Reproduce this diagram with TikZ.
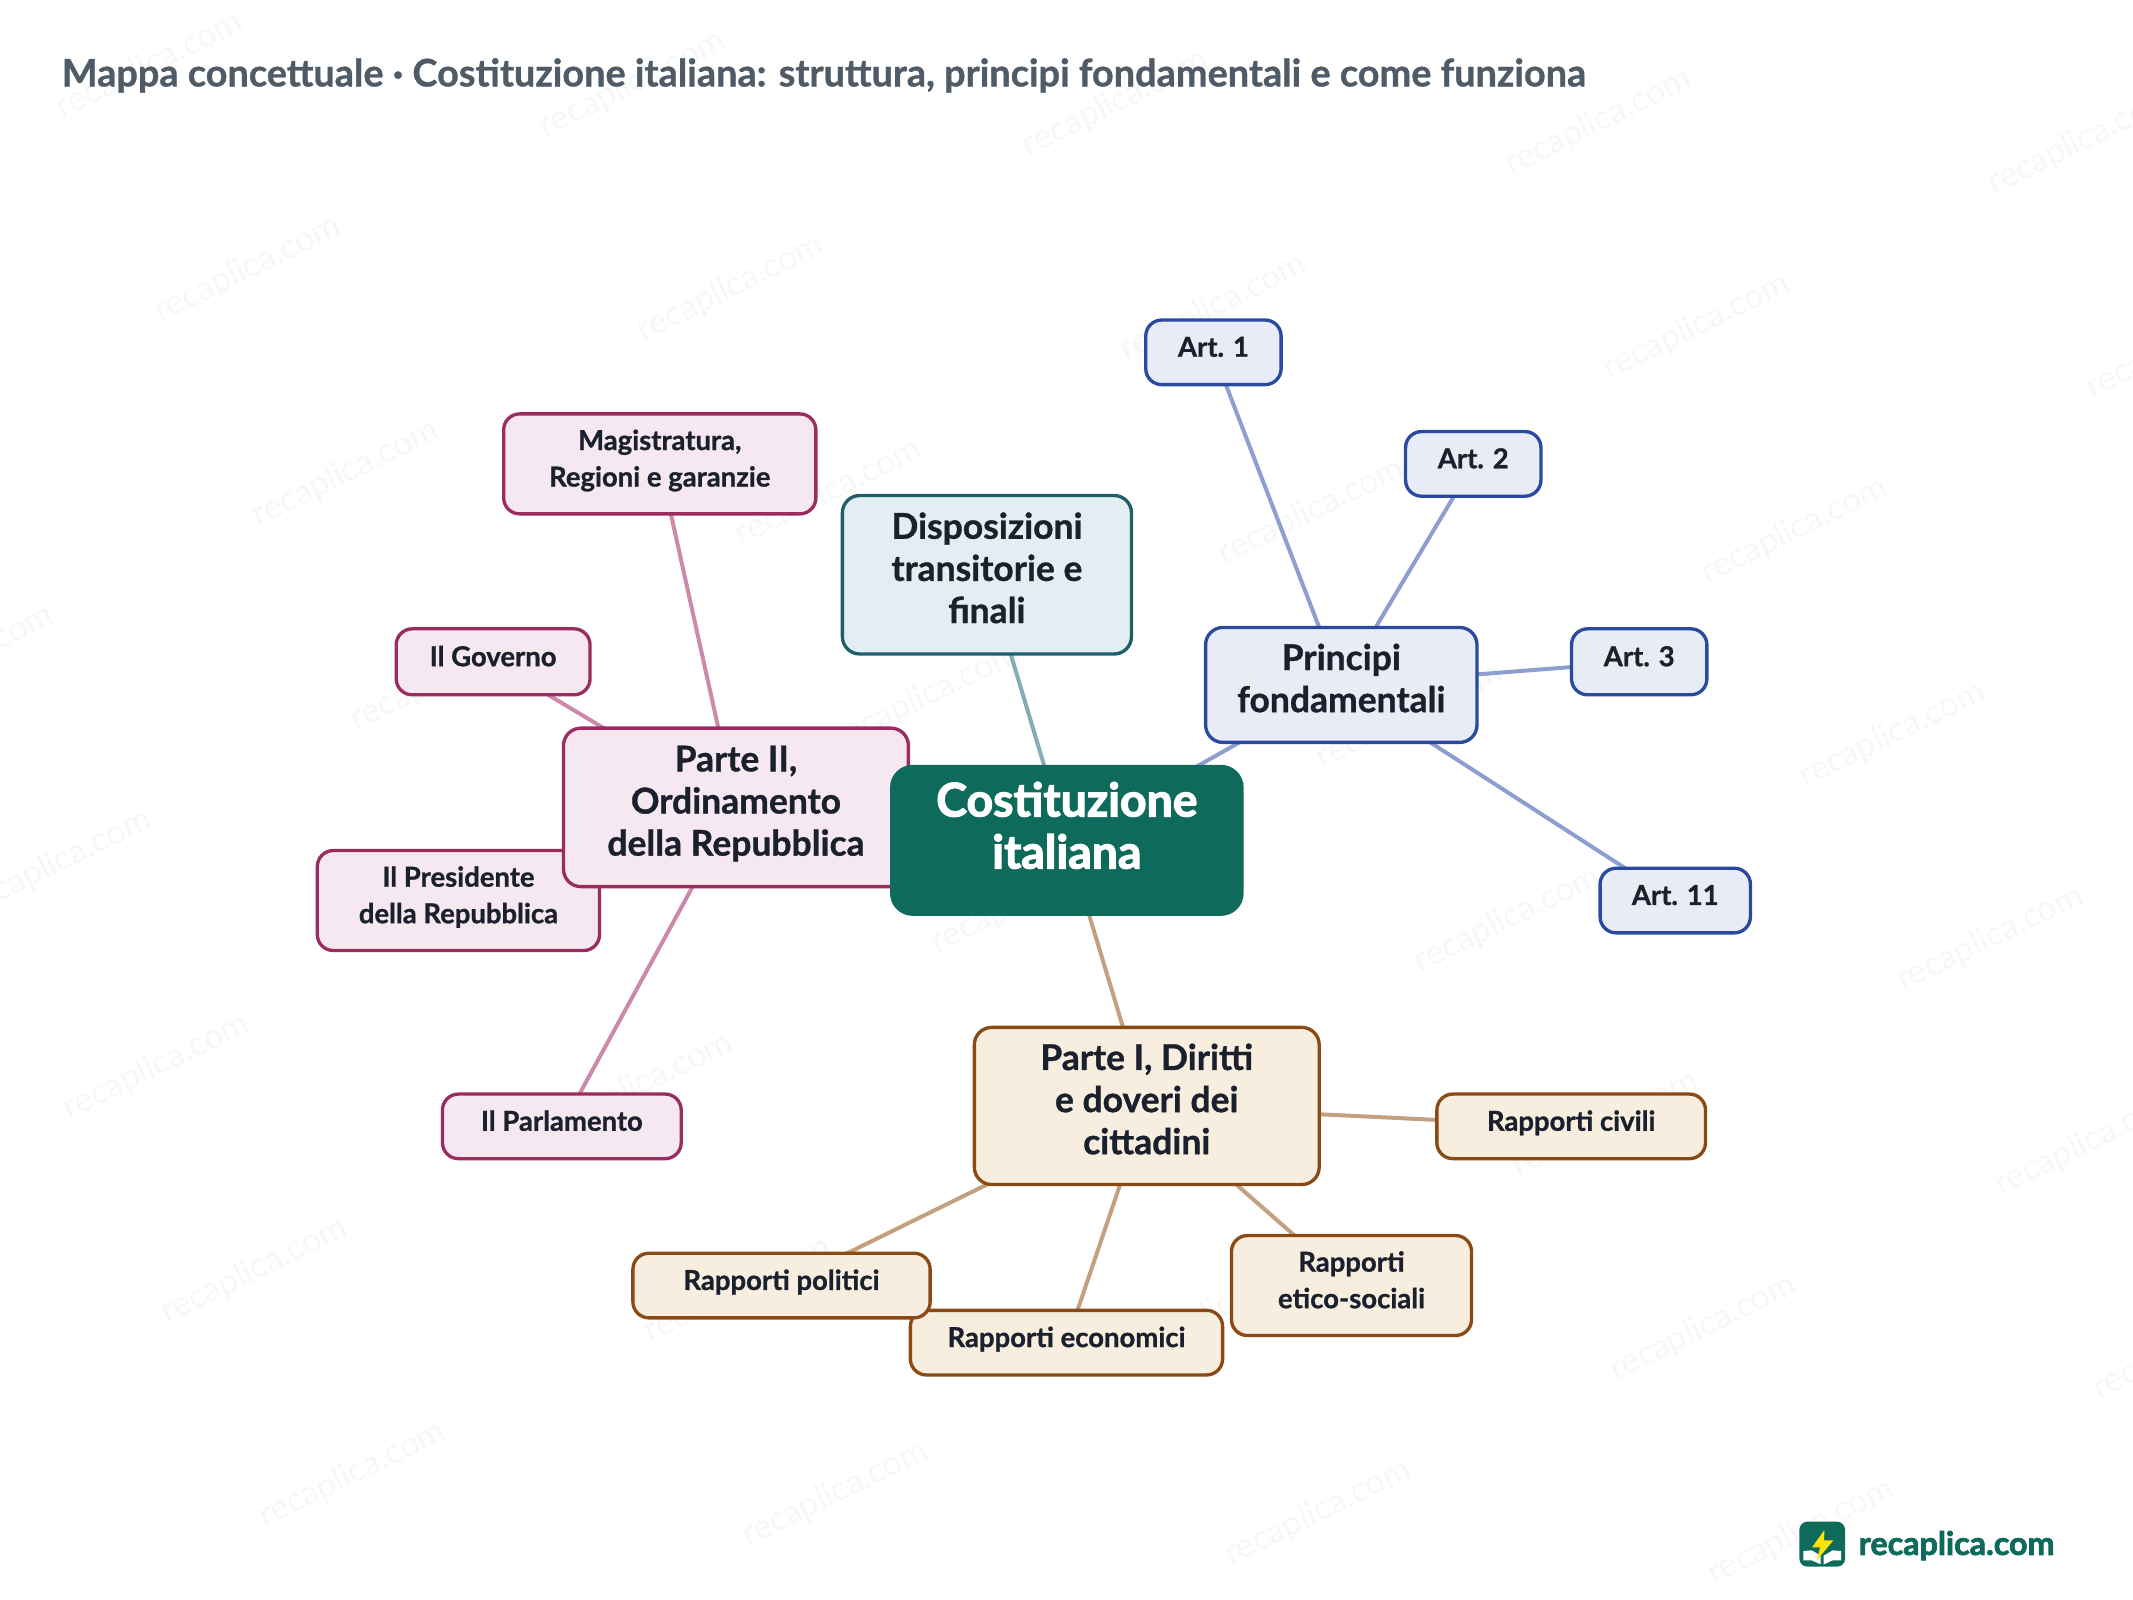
\documentclass[tikz,border=0pt]{standalone}
\usepackage{fontspec}
\setmainfont{Lato}[BoldFeatures={FakeBold=0.9}]
\newfontfamily\latoblk{Lato}[UprightFont=* Bold,UprightFeatures={FakeBold=2.4}]
\definecolor{txt}{HTML}{1A202C}
\definecolor{ttl}{HTML}{4F5B67}
\definecolor{grn}{HTML}{0E6B5C}
\definecolor{wm}{HTML}{F6F7F7}
\definecolor{bF}{HTML}{E8ECF7}\definecolor{bS}{HTML}{2A4A9F}\definecolor{bL}{HTML}{8D9FD0}
\definecolor{mF}{HTML}{F6E8F0}\definecolor{mS}{HTML}{9B2C5F}\definecolor{mL}{HTML}{CC89A9}
\definecolor{oF}{HTML}{F7EEDF}\definecolor{oS}{HTML}{8B4A14}\definecolor{oL}{HTML}{C4A07E}
\definecolor{tF}{HTML}{E3EEF3}\definecolor{tS}{HTML}{1F5F6B}\definecolor{tL}{HTML}{82ADB5}
\tikzset{
  boxbase/.style={rectangle,inner sep=0pt,line width=2.5pt,align=center,text=txt},
  lvlthree/.style={boxbase,rounded corners=12pt,font=\fontsize{20.6}{27.4}\selectfont\bfseries},
  lvltwo/.style={boxbase,rounded corners=13pt,font=\fontsize{26.6}{31.6}\selectfont\bfseries},
  lvlone/.style={rectangle,inner sep=0pt,rounded corners=17pt,fill=grn,text=white,font=\fontsize{34.8}{39}\selectfont\latoblk},
  blu/.style={draw=bS,fill=bF},
  mag/.style={draw=mS,fill=mF},
  och/.style={draw=oS,fill=oF},
  tea/.style={draw=tS,fill=tF},
  linkline/.style={line width=3pt},
  wmtext/.style={text=wm,rotate=26,font=\fontsize{25.5}{28}\selectfont},
}
% name x0 y0 x1 y1 style raise text
\newcommand{\bx}[8]{%
  \pgfmathsetmacro{\cxx}{(#2+#4)/2}\pgfmathsetmacro{\cyy}{(#3+#5)/2}%
  \pgfmathsetmacro{\www}{(#4-#2-0.5)*1.0204}\pgfmathsetmacro{\hhh}{(#5-#3-0.5)*1.0204}%
  \node[#6,minimum width=\www pt,minimum height=\hhh pt] (#1) at (\cxx,\cyy)
    {\raisebox{#7pt}[0pt][0pt]{\begin{tabular}{@{}c@{}}#8\end{tabular}}};}
\begin{document}
\begin{tikzpicture}[x=1.0204pt,y=-1.0204pt]
\useasboundingbox (0,0) rectangle (1568,1176);
\begin{scope}
\clip (0,0) rectangle (1568,1176);
\foreach \i in {-1,...,4}{\foreach \j in {0,...,7}{
  \pgfmathsetmacro{\wx}{110+355*\i+72*\j}
  \pgfmathsetmacro{\wy}{48+14*\i+150*\j}
  \node[wmtext] (wm\i\j) at (\wx,\wy) {recaplica.com};
}}
\end{scope}
\node[anchor=base west,text=ttl,font=\fontsize{28.4}{30}\selectfont\bfseries] (title) at (42,63.5) {Mappa concettuale · Costituzione italiana: struttura, principi fondamentali e come funziona};
\coordinate (cC) at (784,617.5);
\coordinate (cD) at (725.5,422.5);
\coordinate (cP) at (986,503.5);
\coordinate (cII) at (541,593.5);
\coordinate (cI) at (843,813);
\coordinate (ca1) at (892,259);
\coordinate (ca2) at (1083,341);
\coordinate (ca3) at (1205,486.5);
\coordinate (ca11) at (1231.5,662);
\coordinate (cmg) at (485,341);
\coordinate (cgv) at (362.5,486.5);
\coordinate (cpr) at (337,662);
\coordinate (cpl) at (413,828);
\coordinate (crc) at (1155,828);
\coordinate (crp) at (574.5,945);
\coordinate (cre) at (784,987);
\coordinate (crs) at (993.5,945);
\draw[linkline,tL] (cC)--(cD);
\draw[linkline,bL] (cC)--(cP);
\draw[linkline,mL] (cC)--(cII);
\draw[linkline,oL] (cC)--(cI);
\draw[linkline,bL] (cP)--(ca1);
\draw[linkline,bL] (cP)--(ca2);
\draw[linkline,bL] (cP)--(ca3);
\draw[linkline,bL] (cP)--(ca11);
\draw[linkline,mL] (cII)--(cmg);
\draw[linkline,mL] (cII)--(cgv);
\draw[linkline,mL] (cII)--(cpr);
\draw[linkline,mL] (cII)--(cpl);
\draw[linkline,oL] (cI)--(crc);
\draw[linkline,oL] (cI)--(crp);
\draw[linkline,oL] (cI)--(cre);
\draw[linkline,oL] (cI)--(crs);
\bx{art1}{842}{235}{942}{283}{lvlthree,blu}{-3}{Art. 1}
\bx{art2}{1033}{317}{1133}{365}{lvlthree,blu}{-3}{Art. 2}
\bx{art3}{1155}{462}{1255}{511}{lvlthree,blu}{-3}{Art. 3}
\bx{art11}{1176}{638}{1287}{686}{lvlthree,blu}{-3}{Art. 11}
\bx{magi}{370}{304}{600}{378}{lvlthree,mag}{-3}{Magistratura,\\Regioni e garanzie}
\bx{gov}{291}{462}{434}{511}{lvlthree,mag}{-3}{Il Governo}
\bx{pres}{233}{625}{441}{699}{lvlthree,mag}{-3}{Il Presidente\\della Repubblica}
\bx{parl}{325}{804}{501}{852}{lvlthree,mag}{-3}{Il Parlamento}
\bx{rciv}{1056}{804}{1254}{852}{lvlthree,och}{-3}{Rapporti civili}
\bx{reco}{669}{963}{899}{1011}{lvlthree,och}{-3}{Rapporti economici}
\bx{rpol}{465}{921}{684}{969}{lvlthree,och}{-3}{Rapporti politici}
\bx{rsoc}{905}{908}{1082}{982}{lvlthree,och}{-3}{Rapporti\\etico-sociali}
\bx{disp}{619}{364}{832}{481}{lvltwo,tea}{-4.5}{Disposizioni\\transitorie e\\finali}
\bx{princ}{886}{461}{1086}{546}{lvltwo,blu}{-4.5}{Principi\\fondamentali}
\bx{ptwo}{414}{535}{668}{652}{lvltwo,mag}{-4.5}{Parte II,\\Ordinamento\\della Repubblica}
\bx{pone}{716}{755}{970}{871}{lvltwo,och}{-4.5}{Parte I, Diritti\\e doveri dei\\cittadini}
\bx{root}{654}{562}{914.5}{673.5}{lvlone}{0}{Costituzione\\italiana}
% logo
\begin{scope}[shift={(1315.9,1113.7)},scale=0.245]
\fill[grn,rounded corners=6pt] (28,20) rectangle (165,155);
\fill[white] (40,108) -- (65,106) -- (92,122) -- (92,148) -- (65,136) -- (40,136) -- cycle;
\fill[white] (153,108) -- (128,106) -- (101,122) -- (101,148) -- (128,136) -- (153,136) -- cycle;
\fill[yellow!85!orange] (103,45) -- (66,97) -- (90,97) -- (80,136) -- (130,76) -- (102,76) -- cycle;
\end{scope}
\node[anchor=base west,text=grn,font=\fontsize{24.2}{30}\selectfont\latoblk] (logot) at (1363,1143) {recaplica.com};
\end{tikzpicture}
\end{document}
